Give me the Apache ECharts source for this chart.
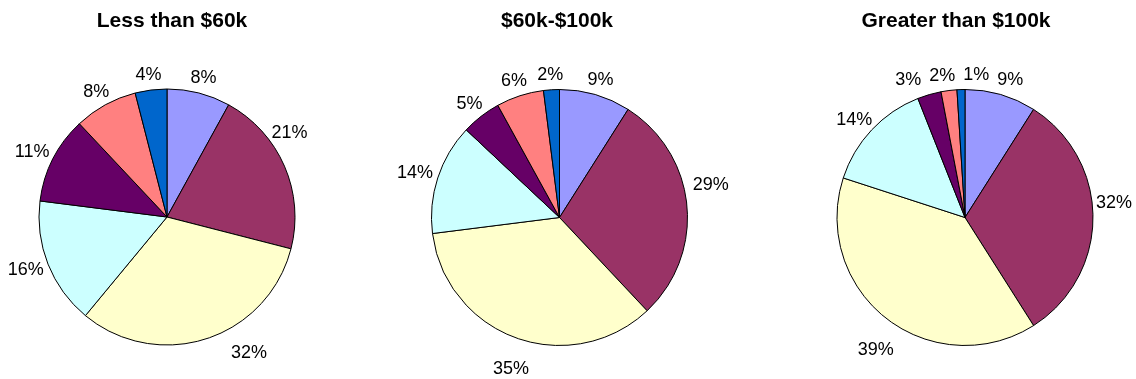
<!DOCTYPE html>
<html>
<head>
<meta charset="utf-8">
<script src="https://cdn.jsdelivr.net/npm/echarts@6/dist/echarts.min.js"></script>
<style>
  html, body { margin: 0; padding: 0; background: #ffffff; }
  #chart { width: 1136px; height: 379px; }
</style>
</head>
<body>
<div id="chart"></div>
<script>
// Income bands, one pie per band
const groupTitles = ['Less than $60k', '$60k-$100k', 'Greater than $100k'];

// Slices, clockwise from 12 o'clock
const sliceNames = ['Group 1', 'Group 2', 'Group 3', 'Group 4', 'Group 5', 'Group 6', 'Group 7'];

// Share of each slice (%) per income band
const lessThan60k     = [8, 21, 32, 16, 11, 8, 4];
const from60kTo100k   = [9, 29, 35, 14, 5, 6, 2];
const greaterThan100k = [9, 32, 39, 14, 3, 2, 1];

const bandValues = [lessThan60k, from60kTo100k, greaterThan100k];

// Styling / layout
const sliceColors = ['#9999FF', '#993366', '#FFFFCC', '#CCFFFF', '#660066', '#FF8080', '#0066CC'];
const pieCenters = [[167, 217], [559.5, 217.5], [965, 217.5]];
const titleCenters = [172, 557, 956];
const pieRadius = 128;
const labelGap = 6;
const labelFontSize = 18;
const labelMinSpacing = 8;
const fontFamily = '"Liberation Sans", Arial, Helvetica, sans-serif';

// Hand adjustments of a few percentage labels (pixels, per band: slice index -> [dx, dy])
const labelOffsets = [
  { 1: [-17, -27], 2: [35, 0] },
  { 1: [0, -19], 2: [3, 17] },
  { 1: [-3, -14], 2: [4, 20] }
];

const measureCtx = document.createElement('canvas').getContext('2d');
function textWidth(text) {
  measureCtx.font = labelFontSize + 'px ' + fontFamily;
  return measureCtx.measureText(text).width;
}

// Label anchors: just outside the rim along each slice's mid angle,
// then spread sideways where neighbouring labels would collide.
function computeLabelPositions(bandIndex) {
  const vals = bandValues[bandIndex];
  const total = vals.reduce((a, b) => a + b, 0);
  const c = pieCenters[bandIndex];
  const R = pieRadius + labelGap;
  const h = labelFontSize;
  let cum = 0;
  const items = vals.map((v, k) => {
    const mid = (cum + v / 2) / total * Math.PI * 2;
    cum += v;
    const ux = Math.sin(mid);
    const uy = -Math.cos(mid);
    const w = textWidth(v + '%');
    const off = labelOffsets[bandIndex][k] || [0, 0];
    return {
      x: c[0] + ux * (R + w / 2) + off[0],
      y: c[1] + uy * (R + h / 2) + off[1],
      w: w,
      h: 14
    };
  });
  for (let iter = 0; iter < 60; iter++) {
    let moved = false;
    for (let i = 0; i < items.length; i++) {
      for (let j = i + 1; j < items.length; j++) {
        const a = items[i], b = items[j];
        if (Math.abs(a.y - b.y) >= (a.h + b.h) / 2) continue;
        const need = (a.w + b.w) / 2 + labelMinSpacing;
        const dx = b.x - a.x;
        if (Math.abs(dx) < need) {
          const push = (need - Math.abs(dx)) / 2;
          const s = dx >= 0 ? 1 : -1;
          a.x -= s * push;
          b.x += s * push;
          moved = true;
        }
      }
    }
    if (!moved) break;
  }
  return items;
}

const labelPositions = bandValues.map((_, i) => computeLabelPositions(i));

const chart = echarts.init(document.getElementById('chart'), null, { renderer: 'canvas' });

const option = {
  backgroundColor: '#ffffff',
  animation: false,
  title: groupTitles.map((t, i) => ({
    text: t,
    left: titleCenters[i],
    top: 11,
    padding: 0,
    textAlign: 'center',
    textStyle: { fontFamily: fontFamily, fontSize: 21, fontWeight: 'bold', color: '#000000' }
  })),
  series: bandValues.map((vals, i) => ({
    type: 'pie',
    center: pieCenters[i],
    radius: pieRadius,
    startAngle: 90,
    clockwise: true,
    avoidLabelOverlap: false,
    data: vals.map((v, k) => ({
      name: sliceNames[k],
      value: v,
      itemStyle: { color: sliceColors[k] }
    })),
    itemStyle: { borderColor: '#000000', borderWidth: 1 },
    label: {
      show: true,
      position: 'outside',
      formatter: '{c}%',
      fontFamily: fontFamily,
      fontSize: labelFontSize,
      color: '#000000'
    },
    labelLine: { show: false },
    labelLayout: function (p) {
      const pos = labelPositions[i][p.dataIndex];
      return { x: pos.x, y: pos.y, align: 'center', verticalAlign: 'middle' };
    },
    emphasis: { disabled: true }
  }))
};

chart.setOption(option);
</script>
</body>
</html>
